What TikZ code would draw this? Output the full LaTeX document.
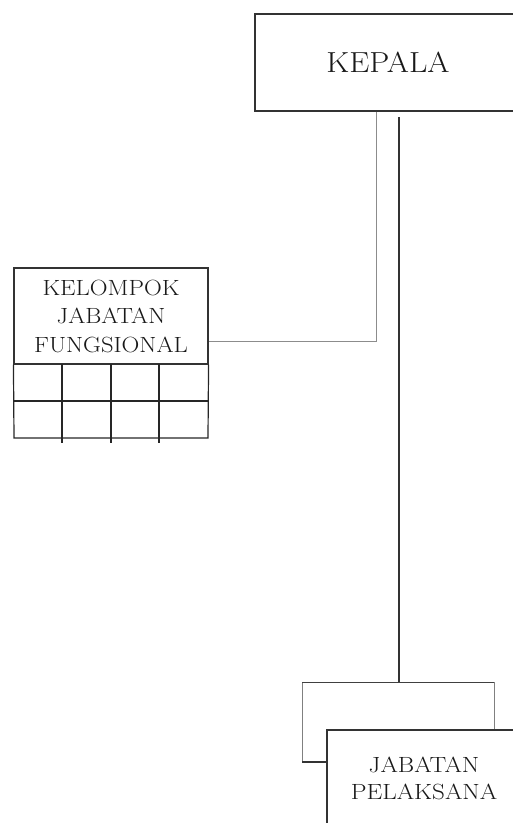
\documentclass[tikz,border=0pt]{standalone}
\usepackage{graphicx}
\newcommand\wideln[2]{\scalebox{#1}[1]{#2}}
\begin{document}
\begin{tikzpicture}[x=1pt,y=-1pt,
  box/.style={draw=black!80, line width=1.1pt, fill=white, inner sep=0pt, align=center, text=black!90},
  conn/.style={draw=black!45, line width=1pt},
  darkline/.style={draw=black!80, line width=1.1pt},
  grid/.style={draw=black!85, line width=1.2pt}]
\useasboundingbox (0,0) rectangle (513,823);
\clip (0,0) rectangle (513,823);
% KEPALA
\node[box, minimum width=266pt, minimum height=97pt, font=\fontsize{29}{34}\selectfont] (kepala) at (388,62.5) {\wideln{1.1}{KEPALA}};
% Kelompok jabatan fungsional
\node[box, minimum width=194pt, minimum height=96pt, font=\fontsize{22}{28.5}\selectfont] (fung) at (111,316) {\wideln{1.12}{KELOMPOK}\\\wideln{1.12}{JABATAN}\\\wideln{1.12}{FUNGSIONAL}};
\coordinate (g1) at (14,438);
\coordinate (g2) at (208,438);
\draw[grid] (fung.south west) -- (g1) -- (g2) -- (fung.south east);
\draw[grid] (14,401) -- (208,401);
\foreach \x in {62,111,159} \draw[grid] (\x,364) -- (\x,443);
% connector kepala -> fungsional
\coordinate (kc) at (376,341);
\draw[conn] (kepala.south -| kc) -- (kc) -- (fung.east |- kc);
% back box of pelaksana
\coordinate (bnw) at (302,682);
\coordinate (bse) at (494,762);
\draw[draw=black!50, line width=1pt] (bnw) rectangle (bse);
\draw[draw=black!75, line width=1pt] (bnw) -- (bnw -| bse);
% front box
\node[box, minimum width=194pt, minimum height=96pt, font=\fontsize{22}{27}\selectfont] (pel) at (424,778) {\wideln{1.14}{JABATAN}\\\wideln{1.14}{PELAKSANA}};
\draw[darkline] (302,762) -- (pel.west |- bse);
% main line
\coordinate (ml) at (399,117);
\draw[darkline] (ml) -- (ml |- bnw);
\end{tikzpicture}
\end{document}
